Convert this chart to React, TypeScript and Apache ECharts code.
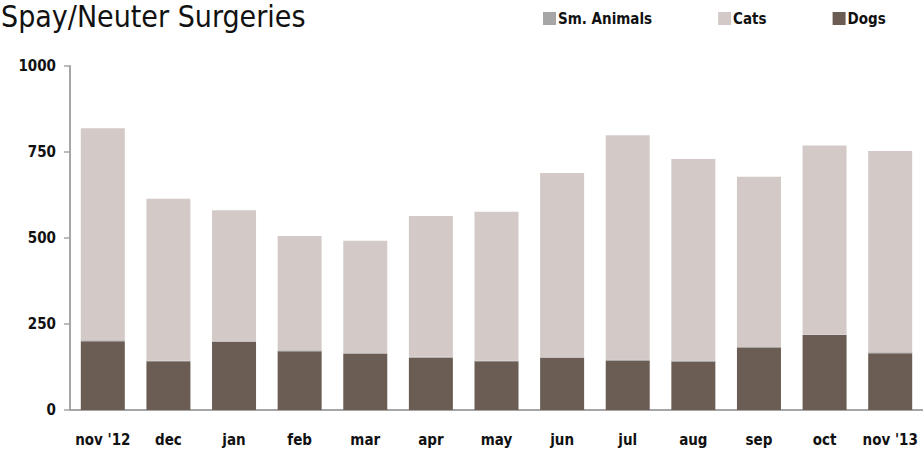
import React, { useEffect, useRef } from "react";
import * as echarts from "echarts";

const categories = ["nov '12", "dec", "jan", "feb", "mar", "apr", "may", "jun", "jul", "aug", "sep", "oct", "nov '13"];
const dogs = [200, 142, 198, 171, 164, 152, 142, 151, 144, 141, 180, 218, 165];
const smAnimals = [3, 1, 2, 3, 1, 3, 1, 2, 3, 3, 3, 1, 3];
const cats = [616, 471, 381, 332, 327, 409, 433, 536, 652, 586, 495, 550, 585];
const yTicks = [0, 250, 500, 750, 1000];

const FONT = "'Liberation Sans Narrow', 'DejaVu Sans Condensed', 'Roboto Condensed', sans-serif";

export default function App() {
  const ref = useRef<HTMLDivElement>(null);
  useEffect(() => {
    if (!ref.current) return;
    const chart = echarts.init(ref.current, null, { renderer: "svg" });
    chart.setOption({
      animation: false,
      backgroundColor: "#ffffff",
      title: {
        text: "Spay/Neuter Surgeries",
        left: 1,
        top: 1,
        padding: 0,
        textStyle: { fontFamily: FONT, fontSize: 30, fontWeight: "normal", color: "#111" },
      },
      legend: {
        data: ["Sm. Animals", "Cats", "Dogs"],
        left: 538,
        top: 6,
        itemWidth: 13,
        itemHeight: 13,
        itemGap: 66,
        icon: "rect",
        textStyle: { fontFamily: FONT, fontSize: 15, fontWeight: "bold", color: "#111", padding: [0, 0, 0, -3] },
      },
      grid: { left: 70, top: 66, height: 344, width: 858 },
      xAxis: {
        type: "category",
        data: categories,
        boundaryGap: true,
        axisLine: { lineStyle: { color: "#a6a6a6", width: 2 } },
        axisTick: { alignWithLabel: true, length: 5, lineStyle: { color: "#a6a6a6", width: 1.5 } },
        axisLabel: { interval: 0, fontFamily: FONT, fontSize: 15, fontWeight: "bold", color: "#111", margin: 22 },
      },
      yAxis: {
        type: "value",
        min: yTicks[0],
        max: yTicks[yTicks.length - 1],
        interval: 250,
        splitLine: { show: false },
        axisLine: { show: true, lineStyle: { color: "#a6a6a6", width: 2 } },
        axisTick: { show: true, length: 6, lineStyle: { color: "#a6a6a6", width: 1.5 } },
        axisLabel: {
          fontFamily: FONT,
          fontSize: 15,
          fontWeight: "bold",
          color: "#111",
          margin: 14,
          formatter: (v: number) => String(v),
        },
      },
      series: [
        {
          name: "Dogs",
          type: "bar",
          stack: "total",
          data: dogs,
          barWidth: 44,
          itemStyle: { color: "#6b5d54" },
        },
        {
          name: "Sm. Animals",
          type: "bar",
          stack: "total",
          data: smAnimals,
          barWidth: 44,
          itemStyle: { color: "#a6a6a6" },
        },
        {
          name: "Cats",
          type: "bar",
          stack: "total",
          data: cats,
          barWidth: 44,
          itemStyle: { color: "#d3cac7" },
        },
      ],
    });
    return () => chart.dispose();
  }, []);
  return <div ref={ref} style={{ width: 923, height: 451, position: "absolute", left: 0, top: 0 }} />;
}
